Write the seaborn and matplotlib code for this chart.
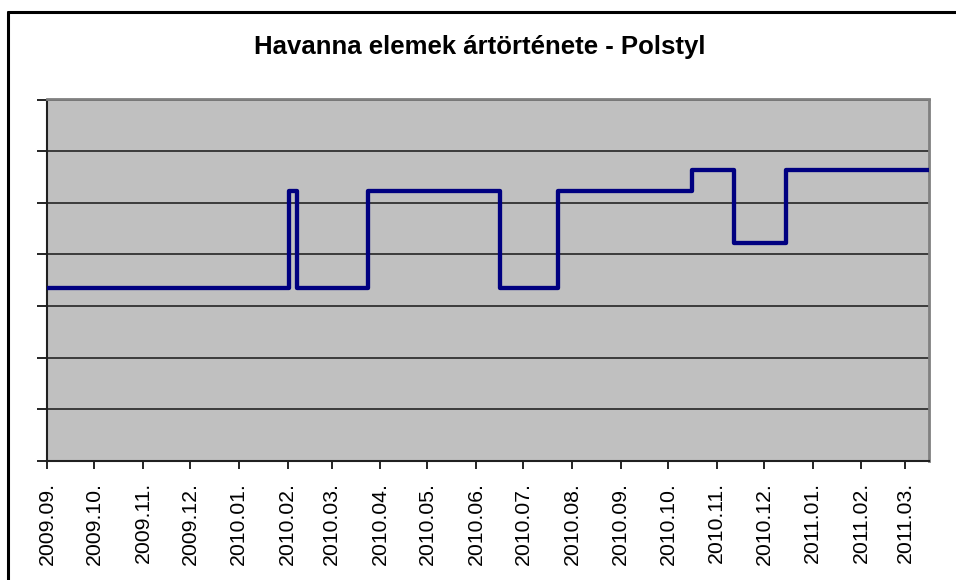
import matplotlib
matplotlib.use("Agg")
import matplotlib.pyplot as plt
import matplotlib.dates as mdates
from matplotlib.lines import Line2D
import seaborn as sns
import pandas as pd

# ---- data ----
change_dates = ["2009-09-01", "2010-02-02", "2010-02-07", "2010-03-24", "2010-06-16",
                "2010-07-23", "2010-10-16", "2010-11-12", "2010-12-15", "2011-03-16"]
prices = [33.5, 52.2, 33.5, 52.2, 33.5, 52.2, 56.4, 42.2, 56.4, 56.4]
title = "Havanna elemek ártörténete - Polstyl"
x_start = "2009-09-01"
x_end = "2011-03-16"

df = pd.DataFrame({"date": pd.to_datetime(change_dates), "price": prices})

sns.set_theme(style="white")
plt.rcParams["font.family"] = ["Liberation Sans", "DejaVu Sans"]

fig = plt.figure(figsize=(9.56, 5.8), dpi=100)
ax = fig.add_axes([47 / 956, 1 - 461 / 580, (929 - 47) / 956, (461 - 99.5) / 580])
ax.set_facecolor("#c0c0c0")

sns.lineplot(data=df, x="date", y="price", ax=ax, color="#000080",
             linewidth=3.1, drawstyle="steps-post", zorder=3)

ax.set_xlim(pd.Timestamp(x_start), pd.Timestamp(x_end))
ax.set_ylim(0, 70)
ax.set_yticks(range(0, 71, 10))
ax.set_yticklabels([])
ax.yaxis.grid(True, color="#303030", linewidth=1.3)
ax.xaxis.grid(False)
ax.set_axisbelow(True)

ax.xaxis.set_major_locator(mdates.MonthLocator())
ax.xaxis.set_major_formatter(mdates.DateFormatter("%Y.%m."))
ax.tick_params(axis="x", which="major", length=6, width=1.2, color="black",
               direction="out", labelsize=15.3, labelrotation=90, pad=9,
               labelcolor="black", bottom=True)
ax.tick_params(axis="y", length=7, width=1.2, color="black", direction="out", left=True)
for lab in ax.get_xticklabels():
    lab.set_verticalalignment("top")

ax.set_xlabel("")
ax.set_ylabel("")
for s in ["left", "bottom"]:
    ax.spines[s].set_color("#202020")
    ax.spines[s].set_linewidth(1.5)
for s in ["top", "right"]:
    ax.spines[s].set_color("#808080")
    ax.spines[s].set_linewidth(2.0)

fig.text(480 / 956, 1 - 47 / 580, title, ha="center", va="center",
         fontsize=18.5, fontweight="bold", color="black")

# outer chart border (top and left visible)
fig.add_artist(Line2D([7.5 / 956, 1.0], [1 - 11.5 / 580, 1 - 11.5 / 580],
                      transform=fig.transFigure, color="black", linewidth=2.2))
fig.add_artist(Line2D([7.5 / 956, 7.5 / 956], [0.0, 1 - 11.5 / 580],
                      transform=fig.transFigure, color="black", linewidth=2.2))

fig.savefig("out.png", dpi=100, facecolor="white")
